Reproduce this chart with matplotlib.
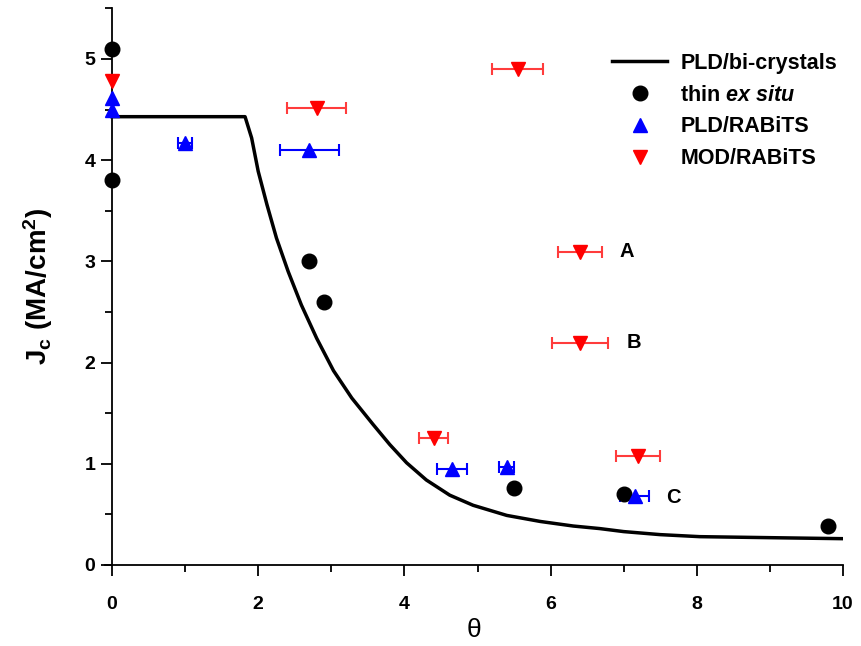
import numpy as np
import matplotlib.pyplot as plt
from matplotlib.ticker import MultipleLocator

plt.rcParams['font.family'] = ['Liberation Sans', 'DejaVu Sans']
plt.rcParams['mathtext.fontset'] = 'custom'
plt.rcParams['mathtext.rm'] = 'Liberation Sans:bold'
plt.rcParams['mathtext.it'] = 'Liberation Sans:italic:bold'
plt.rcParams['mathtext.bf'] = 'Liberation Sans:bold'

# PLD bi-crystal curve
curve_x = [0, 1.82, 1.91, 2.00, 2.12, 2.25, 2.41, 2.59, 2.80, 3.03, 3.28, 3.57, 3.80, 4.03,
           4.30, 4.62, 4.94, 5.40, 5.86, 6.31, 6.67, 7.0, 7.5, 8.04, 9.0, 10.0]
curve_y = [4.43, 4.43, 4.22, 3.89, 3.56, 3.23, 2.90, 2.57, 2.24, 1.92, 1.65, 1.39, 1.19, 1.01,
           0.84, 0.69, 0.59, 0.49, 0.43, 0.385, 0.36, 0.33, 0.30, 0.28, 0.27, 0.26]

# thin ex situ
thin_x = [0, 0, 2.7, 2.9, 5.5, 7.0, 9.8]
thin_y = [5.1, 3.8, 3.0, 2.6, 0.76, 0.70, 0.385]

# PLD/RABiTS
pld_x = [0, 0, 1.0, 2.7, 4.65, 5.4, 7.15]
pld_y = [4.61, 4.5, 4.17, 4.1, 0.95, 0.97, 0.68]
pld_xerr = [0, 0, 0.1, 0.4, 0.2, 0.1, 0.2]

# MOD/RABiTS
mod_x = [0, 2.8, 5.55, 6.4, 6.4, 4.4, 7.2]
mod_y = [4.78, 4.52, 4.9, 3.09, 2.19, 1.25, 1.08]
mod_xerr = [0, 0.4, 0.35, 0.3, 0.38, 0.2, 0.3]

tags = ['A', 'B', 'C']
tag_x = [6.94, 7.04, 7.58]
tag_y = [3.1, 2.2, 0.67]

fig = plt.figure(figsize=(8.61, 6.46), dpi=100)
ax = fig.add_axes([0.1216, 0.1254, 0.8575, 0.8616])

ax.plot(curve_x, curve_y, color='black', lw=2.5, label='PLD/bi-crystals', zorder=2)

ax.errorbar(pld_x, pld_y, xerr=pld_xerr, fmt='none', ecolor='blue', elinewidth=1.5,
            capsize=4, capthick=1.5, zorder=3)
ax.errorbar(mod_x, mod_y, xerr=mod_xerr, fmt='none', ecolor='#ff3c3c', elinewidth=1.5,
            capsize=4, capthick=1.5, zorder=3)

ax.plot(thin_x, thin_y, 'o', color='black', ms=10.5, label=r'thin $ex\ situ$', clip_on=False, zorder=4)
ax.plot(pld_x, pld_y, '^', color='blue', ms=10, label='PLD/RABiTS', clip_on=False, zorder=4)
ax.plot(mod_x, mod_y, 'v', color='red', ms=10, label='MOD/RABiTS', clip_on=False, zorder=4)

for t, x, y in zip(tags, tag_x, tag_y):
    ax.text(x, y, t, fontsize=14.5, fontweight='bold', ha='left', va='center')

ax.set_xlim(-0.1, 10)
ax.set_ylim(0, 5.5)
ax.spines['left'].set_position(('data', 0))
ax.spines['right'].set_visible(False)
ax.spines['top'].set_visible(False)
ax.spines['left'].set_linewidth(1.3)
ax.spines['bottom'].set_linewidth(1.3)

ax.xaxis.set_major_locator(MultipleLocator(2))
ax.xaxis.set_minor_locator(MultipleLocator(1))
ax.yaxis.set_major_locator(MultipleLocator(1))
ax.yaxis.set_minor_locator(MultipleLocator(0.5))
ax.tick_params(which='major', length=8, width=1.3, labelsize=14)
ax.tick_params(axis='x', which='major', pad=14)
ax.tick_params(axis='y', which='major', pad=4)
ax.tick_params(which='minor', length=5, width=1.3)
for lab in ax.get_xticklabels() + ax.get_yticklabels():
    lab.set_fontweight('bold')

ax.set_xlabel('θ', fontsize=19, labelpad=4)
ax.set_ylabel(r'$\mathrm{J_c\ (MA/cm^2)}$', fontsize=20, labelpad=21)

leg = ax.legend(loc='upper right', bbox_to_anchor=(1.018, 0.955), frameon=False,
                fontsize=15.5, handlelength=2.55, labelspacing=0.5, handletextpad=0.6)
for txt in leg.get_texts():
    txt.set_fontweight('bold')

fig.savefig('out.png', dpi=100)
